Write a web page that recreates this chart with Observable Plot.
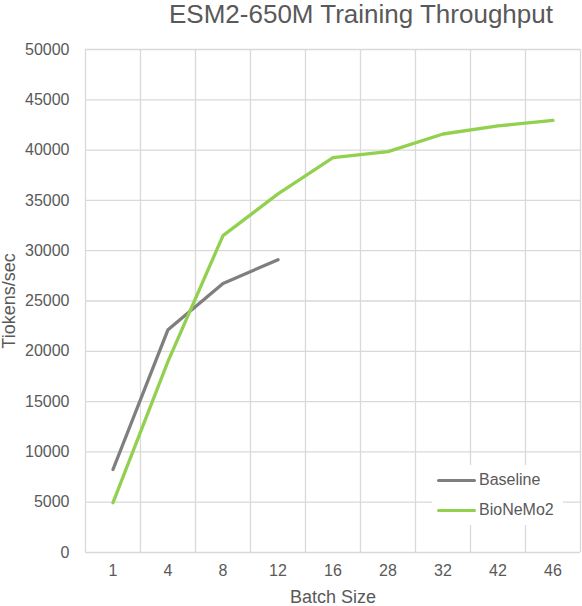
<!DOCTYPE html>
<html>
<head>
<meta charset="utf-8">
<script src="https://cdn.jsdelivr.net/npm/d3@7"></script>
<script src="https://cdn.jsdelivr.net/npm/@observablehq/plot@0.6"></script>
<style>
  html, body { margin: 0; padding: 0; background: #fff; }
  #wrap { position: relative; width: 582px; height: 606px; font-family: "Liberation Sans", Arial, sans-serif; color: #595959; }
  #legend { position: absolute; left: 432px; top: 465px; width: 131px; height: 60px; background: #fff; }
  .item { position: absolute; left: 5px; display: flex; align-items: center; font-size: 16px; color: #595959; }
  .sw { width: 39px; height: 3px; margin-right: 3px; border-radius: 2px; }
</style>
</head>
<body>
<div id="wrap"></div>
<script>
const title = "ESM2-650M Training Throughput";
const xLabel = "Batch Size";
const yLabel = "Tiokens/sec";
const batchSizes = ["1", "4", "8", "12", "16", "28", "32", "42", "46"];
const baselineValues = [8250, 22150, 26750, 29100];
const bionemoValues = [4950, 19000, 31500, 35650, 39250, 39850, 41600, 42400, 42950];
const seriesNames = ["Baseline", "BioNeMo2"];
const seriesColors = ["#7f7f7f", "#92d050"];
const yTicks = d3.range(0, 50001, 5000);

const idx = batchSizes.map((_, i) => i);
const bounds = d3.range(0, batchSizes.length + 1).map(i => i - 0.5);
const baseline = baselineValues.map((v, i) => ({i, v}));
const bionemo = bionemoValues.map((v, i) => ({i, v}));

const font = "Liberation Sans, Arial, sans-serif";
const textColor = "#595959";
const grid = "#d9d9d9";

const chart = Plot.plot({
  width: 582,
  height: 606,
  marginTop: 49,
  marginBottom: 54,
  marginLeft: 85,
  marginRight: 2,
  style: {fontFamily: font, background: "#fff", color: textColor},
  x: {type: "linear", domain: [-0.5, batchSizes.length - 0.5]},
  y: {domain: [0, 50000]},
  marks: [
    Plot.ruleY(yTicks, {stroke: grid, strokeWidth: 1.3, strokeOpacity: 1}),
    Plot.ruleX(bounds, {stroke: grid, strokeWidth: 1.3, strokeOpacity: 1}),
    Plot.axisY({ticks: yTicks, tickSize: 0, tickPadding: 16, fontSize: 16, label: null, tickFormat: d => String(d), fill: textColor}),
    Plot.axisX({ticks: idx, tickSize: 0, tickPadding: 12, fontSize: 16, label: null, tickFormat: i => batchSizes[i], fill: textColor}),
    Plot.line(baseline, {x: "i", y: "v", stroke: seriesColors[0], strokeWidth: 3.3, strokeLinecap: "round", strokeLinejoin: "round"}),
    Plot.line(bionemo, {x: "i", y: "v", stroke: seriesColors[1], strokeWidth: 3.3, strokeLinecap: "round", strokeLinejoin: "round"}),
    Plot.text([title], {frameAnchor: "top", dx: 28, dy: -27, lineAnchor: "bottom", fontSize: 26, fill: textColor}),
    Plot.text([xLabel], {frameAnchor: "bottom", dy: 45, lineAnchor: "middle", fontSize: 18, fill: textColor}),
    Plot.text([yLabel], {frameAnchor: "left", dx: -76, rotate: -90, lineAnchor: "middle", textAnchor: "middle", fontSize: 18, fill: textColor})
  ]
});

const wrap = document.getElementById("wrap");
wrap.appendChild(chart);

const legend = document.createElement("div");
legend.id = "legend";
seriesNames.forEach((name, k) => {
  const item = document.createElement("div");
  item.className = "item";
  item.style.top = (k * 30 + 6) + "px";
  const sw = document.createElement("span");
  sw.className = "sw";
  sw.style.background = seriesColors[k];
  const label = document.createElement("span");
  label.textContent = name;
  item.appendChild(sw);
  item.appendChild(label);
  legend.appendChild(item);
});
wrap.appendChild(legend);
</script>
</body>
</html>
